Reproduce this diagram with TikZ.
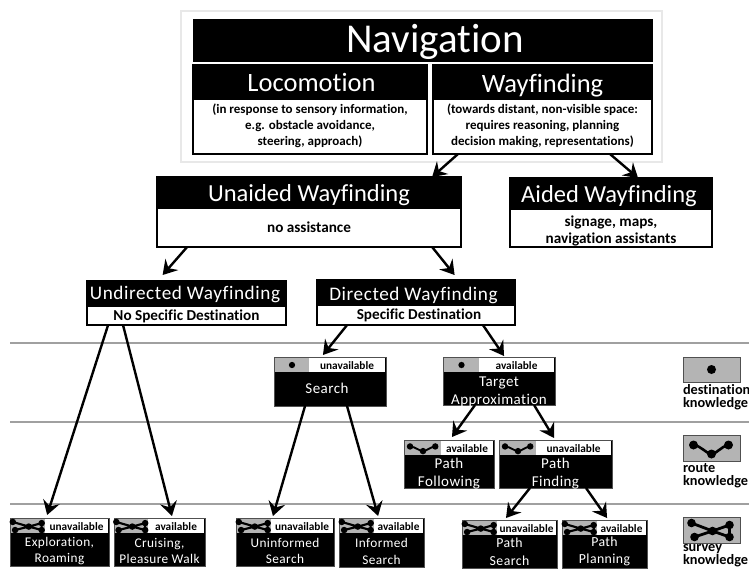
\documentclass[tikz,border=0pt]{standalone}
\usepackage{fontspec}
\setmainfont[Ligatures=NoCommon]{Carlito}
\usetikzlibrary{arrows.meta,calc}
\definecolor{frameg}{HTML}{E8E8E8}
\definecolor{ruleg}{HTML}{A0A0A0}
\definecolor{iconbg}{HTML}{B4B4B4}
\definecolor{cardb}{HTML}{505050}
\newcommand{\cardsize}{\fontsize{14}{17.5}\selectfont}
\newcommand{\cardshift}{1.5}
\tikzset{
  pane/.style={rectangle,inner sep=0pt,outer sep=0pt,anchor=north west,align=center},
  blackpane/.style={pane,fill=black,text=white},
  whitepane/.style={pane,fill=white,text=black},
  outerbox/.style={pane,draw=black,line width=1.4pt,fill=white},
  flow/.style={-{Stealth[length=14pt,width=17pt,inset=5pt]},line width=2.4pt,black},
  sep/.style={ruleg,line width=1.5pt},
  h0/.style={font=\fontsize{41}{44}\selectfont,text height=33pt,text depth=9pt},
  h1/.style={font=\fontsize{26.5}{28}\selectfont,text height=23pt,text depth=6pt},
  h1b/.style={font=\fontsize{26.5}{28}\selectfont,text height=26pt,text depth=6pt},
  h2/.style={font=\fontsize{24.5}{27}\selectfont,text height=23pt,text depth=5.5pt},
  h3/.style={font=\fontsize{19.2}{22}\selectfont\addfontfeature{LetterSpace=3},text height=15pt,text depth=4.5pt},
  h3b/.style={font=\fontsize{19.2}{22}\selectfont\addfontfeature{LetterSpace=3},text height=19pt,text depth=4.5pt},
  desc/.style={font=\fontsize{13}{16}\selectfont\bfseries},
  descb/.style={font=\fontsize{15.2}{17}\selectfont\bfseries},
  sub/.style={font=\fontsize{15.2}{16}\selectfont\bfseries,text height=13.5pt,text depth=3.5pt},
  status/.style={font=\fontsize{11.3}{12}\selectfont\bfseries,text height=11pt,text depth=2.5pt},
  cardtext/.style={font=\cardsize\addfontfeature{LetterSpace=3}},
  legendtext/.style={font=\fontsize{14.3}{13.2}\selectfont\bfseries,align=left,anchor=north west,inner sep=0pt,outer sep=0pt},
  legendtight/.style={legendtext,font=\fontsize{14.3}{12}\selectfont\bfseries},
}
% \pane{name}{x1}{y1}{x2}{y2}{style}{text}
\newcommand{\pane}[7]{%
  \pgfmathsetmacro{\pw}{#4-#2}\pgfmathsetmacro{\ph}{#5-#3}%
  \node[#6,minimum width=\pw pt,minimum height=\ph pt] (#1) at (#2,#3) {#7};}
% icons, centred on (cx,cy), scale s (vertical extent shrinks faster, to fit the strip)
\newcommand{\icodot}[3]{\fill (#1,#2) circle[radius=#3*4.5pt];}
\newcommand{\icoroute}[3]{\begin{scope}[shift={(#1,#2)},x=#3 pt,y=-#3*#3 pt,line width=#3*2.6pt]
  \draw (-18,-3) .. controls (-10,-2) and (-5,6) .. (0,6) .. controls (5,6) and (10,-2) .. (17,-3);
  \foreach \p in {(-18,-3),(0,6),(17,-3)} \fill \p circle[radius=#3*4.5pt];
\end{scope}}
\newcommand{\icosurvey}[3]{\begin{scope}[shift={(#1,#2)},x=#3 pt,y=-#3*#3 pt,line width=#3*2.8pt]
  \draw (-20,-7) -- (1,1) -- (18,-5) -- (18,7) -- (1,1) -- (-17,7);
  \foreach \p in {(-20,-7),(-17,7),(1,1),(18,-5),(18,7)} \fill \p circle[radius=#3*4.3pt];
\end{scope}}
% \card{name}{x1}{y1}{x2}{y2}{greyend}{icon macro}{scale}{status}{text}
\newcommand{\card}[9]{%
  \pane{#1}{#2}{#3}{#4}{#5}{blackpane,draw=cardb,line width=.8pt}{}%
  \pane{#1-ic}{\numexpr#2+1\relax}{\numexpr#3+1\relax}{#6}{\numexpr#3+15\relax}{pane,fill=iconbg}{}%
  \pane{#1-st}{#6}{\numexpr#3+1\relax}{\numexpr#4-1\relax}{\numexpr#3+15\relax}{whitepane,status}{#9}%
  \pgfmathsetmacro{\icx}{(#2+1+#6)/2}\pgfmathsetmacro{\icy}{#3+8}%
  #7{\icx}{\icy}{#8}%
  \cardlabel{#1}{#2}{#3}{#4}{#5}}
\newcommand{\cardlabel}[6]{%
  \pgfmathsetmacro{\lx}{(#2+#4)/2}\pgfmathsetmacro{\ly}{(#3+15+#5)/2+\cardshift}%
  \node[text=white,cardtext,align=center,inner sep=0pt,outer sep=0pt] (#1-tx) at (\lx,\ly) {#6};}
% connector: from bottom edge of a at fraction to top edge of b at fraction, stopping short
\newcommand{\link}[5][0]{\draw[flow] ($(#2.south west)!#3!(#2.south east)$) -- ($(#4.north west)!#5!(#4.north east)+(0,#1)$);}
\begin{document}
\begin{tikzpicture}[x=1pt,y=-1pt]
\useasboundingbox (0,0) rectangle (749,568);
\fill[white] (0,0) rectangle (749,568);
% frame
\pane{frame}{181}{11}{662}{162}{pane,draw=frameg,line width=1.2pt,fill=white}{}
\pane{nav}{193}{19}{653}{62}{blackpane,h0}{\hspace*{24pt}Navigation}
% locomotion
\pane{loco}{193}{65}{427}{154}{outerbox}{}
\pane{locoh}{193}{65}{427}{100}{blackpane,h1}{\hspace*{3pt}Locomotion}
\pane{locot}{195}{100}{425}{152}{whitepane,desc}{(in response to sensory information,\\e.g. obstacle avoidance,\\steering, approach)}
% wayfinding
\pane{way}{433}{65}{652}{154}{outerbox}{}
\pane{wayh}{433}{65}{652}{100}{blackpane,h1b}{Wayfinding}
\pane{wayt}{435}{100}{650}{152}{whitepane,desc}{(towards distant, non-visible space:\\requires reasoning, planning\\decision making, representations)}
% unaided / aided
\pane{unaid}{157}{177}{461}{247}{outerbox}{}
\pane{unaidh}{157}{177}{461}{209}{blackpane,h2}{Unaided Wayfinding}
\pane{unaidt}{159}{209}{459}{245}{whitepane,descb}{no assistance}
\pane{aid}{510}{178}{712}{247}{outerbox}{}
\pane{aidh}{510}{178}{712}{210}{blackpane,h2}{\hspace*{-4pt}Aided Wayfinding}
\pane{aidt}{512}{210}{710}{245}{pane,descb,yshift=-3.5pt}{signage, maps,\\navigation assistants}
% undirected / directed
\pane{undir}{87}{281}{286}{325}{outerbox}{}
\pane{undirh}{87}{281}{286}{307}{blackpane,h3}{\hspace*{-3pt}Undirected Wayfinding}
\pane{undirt}{89}{307}{284}{323}{whitepane,sub}{No Specific Destination}
\pane{dir}{317}{280}{515}{325}{outerbox}{}
\pane{dirh}{317}{280}{515}{306}{blackpane,h3b}{\hspace*{-5pt}Directed Wayfinding}
\pane{dirt}{319}{306}{513}{323}{whitepane,sub}{\hspace*{6pt}Specific Destination}
% separators
\coordinate (s1a) at (10,343); \coordinate (s1b) at (749,343);
\coordinate (s2a) at (10,422); \coordinate (s2b) at (749,422);
\coordinate (s3a) at (10,504); \coordinate (s3b) at (749,504);
\draw[sep] (s1a) -- (s1b);
\draw[sep] (s2a) -- (s2b);
\draw[sep] (s3a) -- (s3b);
% cards
\renewcommand{\cardsize}{\fontsize{15}{18}\selectfont}
\renewcommand{\cardshift}{-1}
\card{search}{274}{357}{386}{406}{309}{\icodot}{.7}{unavailable}{\hspace*{-6pt}Search}
\renewcommand{\cardshift}{3}
\card{target}{443}{357}{555}{405}{479}{\icodot}{.7}{available}{Target\\Approximation}
\renewcommand{\cardshift}{2.5}
\card{follow}{404}{440}{494}{488}{441}{\icoroute}{.72}{available}{Path\\Following}
\card{finding}{499}{440}{612}{488}{536}{\icoroute}{.72}{unavailable}{Path\\Finding}
\renewcommand{\cardsize}{\fontsize{13.3}{16.5}\selectfont}
\renewcommand{\cardshift}{1.5}
\card{explore}{10}{518}{109}{566}{45}{\icosurvey}{.76}{unavailable}{Exploration,\\Roaming}
\card{cruise}{114}{518}{205}{566}{148}{\icosurvey}{.76}{available}{Cruising,\\Pleasure Walk}
\card{uninf}{236}{518}{334}{566}{271}{\icosurvey}{.76}{unavailable}{Uninformed\\Search}
\card{inf}{339}{518}{424}{567}{374}{\icosurvey}{.76}{available}{Informed\\Search}
\renewcommand{\cardsize}{\fontsize{13.8}{17.5}\selectfont}
\renewcommand{\cardshift}{0}
\card{psearch}{462}{520}{557}{568}{497}{\icosurvey}{.76}{unavailable}{Path\\Search}
\card{pplan}{562}{520}{647}{568}{597}{\icosurvey}{.76}{available}{Path\\Planning}
% legend
\pane{lgd}{683}{357}{740}{382}{pane,fill=iconbg,draw=cardb,line width=.8pt}{}
\pane{lgr}{683}{435}{740}{461}{pane,fill=iconbg,draw=cardb,line width=.8pt}{}
\pane{lgs}{683}{517}{740}{543}{pane,fill=iconbg,draw=cardb,line width=.8pt}{}
\icodot{711.5}{369.5}{1}
\icoroute{711.5}{448}{1}
\icosurvey{711.5}{530}{1}
\node[legendtext] (lgdt) at (683,384) {destination\\knowledge};
\node[legendtext] (lgrt) at (683,463) {route\\knowledge};
\node[legendtight] (lgst) at (683,544.6) {survey\\knowledge};
% connectors
\link{way}{.114}{unaid}{.905}
\link{way}{.808}{aid}{.634}
\link[-6]{unaid}{.099}{undir}{.38}
\link[-5]{unaid}{.905}{dir}{.695}
\link[-3]{undir}{.106}{explore}{.375}
\link[-2]{undir}{.181}{cruise}{.637}
\link[-2]{dir}{.152}{search}{.437}
\link[-1]{dir}{.838}{target}{.545}
\link[-2]{search}{.277}{uninf}{.377}
\link[-2]{search}{.652}{inf}{.46}
\link[-3]{target}{.286}{follow}{.533}
\link[-2]{target}{.813}{finding}{.487}
\link[-2]{finding}{.274}{psearch}{.463}
\link[-2]{finding}{.77}{pplan}{.53}
\end{tikzpicture}
\end{document}
